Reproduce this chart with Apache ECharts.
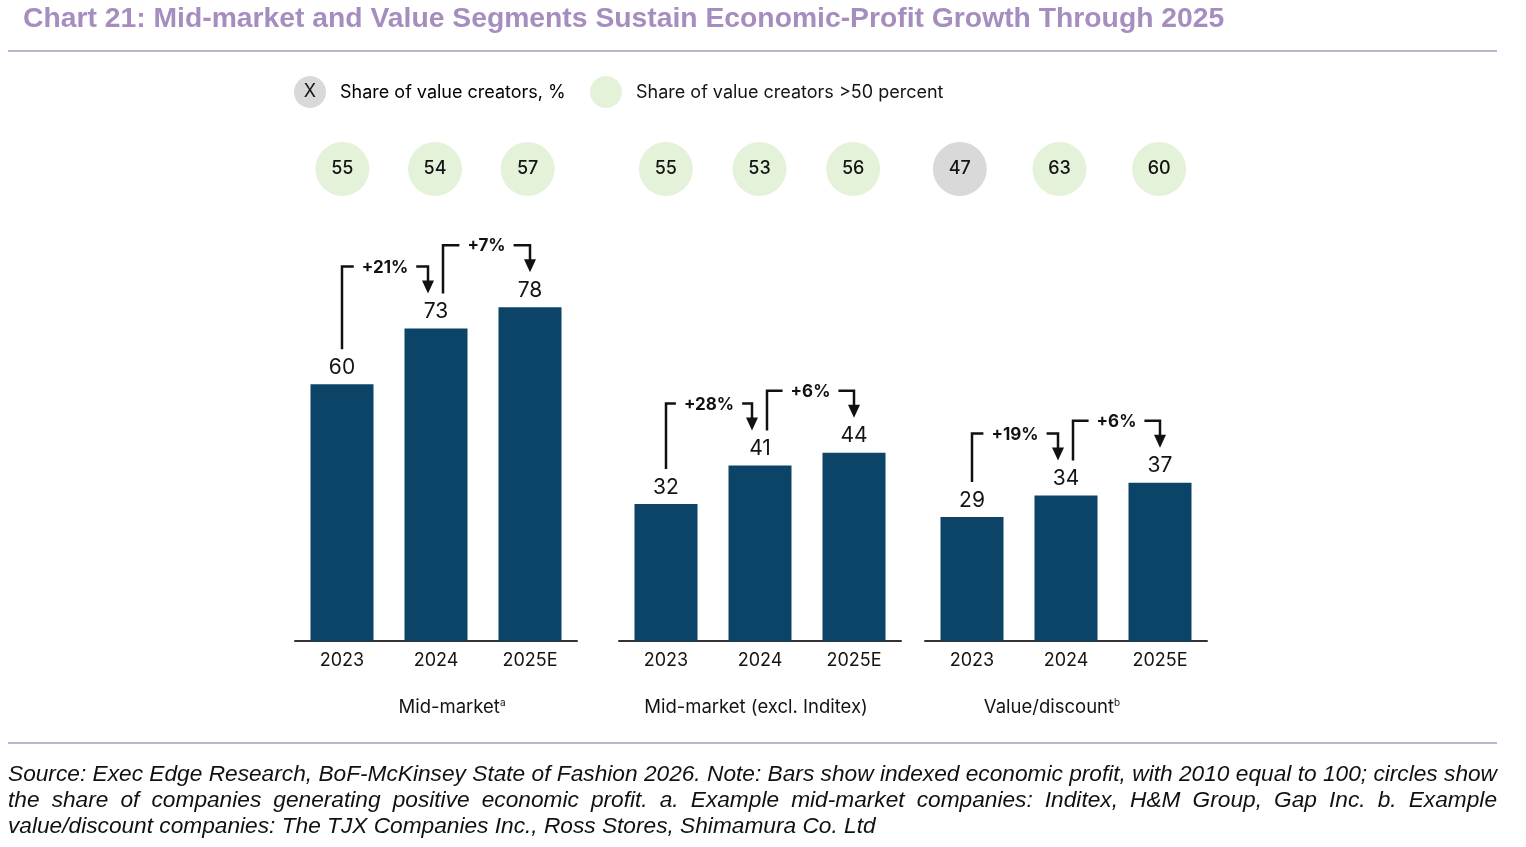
<!DOCTYPE html>
<html lang="en">
<head>
    <meta charset="UTF-8">
    <title>index</title>
    <script src="https://cdn.jsdelivr.net/npm/echarts@6/dist/echarts.min.js"></script>
    <style>
        html, body { margin: 0; padding: 0; background: #fff; }
        #chart { width: 1526px; height: 847px; }
    </style>
</head>
<body>
<div id="chart"></div>
<script>
    // data
    var years = ['2023', '2024', '2025E'];
    var midMarket = [60, 73, 78];
    var midMarketExInditex = [32, 41, 44];
    var valueDiscount = [29, 34, 37];
    var shareMidMarket = [55, 54, 57];
    var shareMidMarketExInditex = [55, 53, 56];
    var shareValueDiscount = [47, 63, 60];
    var growthMidMarket = ['+21%', '+7%'];
    var growthMidMarketExInditex = ['+28%', '+6%'];
    var growthValueDiscount = ['+19%', '+6%'];
    var groupNames = ['Mid-market', 'Mid-market (excl. Inditex)', 'Value/discount'];
    var groupNotes = ['a', '', 'b'];

    var bars = [midMarket, midMarketExInditex, valueDiscount];
    var shares = [shareMidMarket, shareMidMarketExInditex, shareValueDiscount];
    var growth = [growthMidMarket, growthMidMarketExInditex, growthValueDiscount];

    var FONT = 'Inter';
    var INK = '#141414';
    var BAR = '#0b4467';
    var RULE = '#a99bc0';
    var FOOT_FONT = 'italic 22.7px "Liberation Sans"';

    var ctx = document.createElement('canvas').getContext('2d');
    function measure(text, font) {
        ctx.font = font;
        return ctx.measureText(text).width;
    }

    // footnote, justified like the original
    function footLine(text, y, justify) {
        var words = text.split(' ');
        var widths = words.map(function (w) { return measure(w, FOOT_FONT); });
        var total = widths.reduce(function (a, b) { return a + b; }, 0);
        var gap = justify ? (1497 - 8 - total) / (words.length - 1) : measure(' ', FOOT_FONT);
        var x = 8;
        return words.map(function (w, k) {
            var el = {type: 'text', x: x, y: y, silent: true,
                style: {text: w, font: FOOT_FONT, fill: '#111', verticalAlign: 'middle'}};
            x += widths[k] + gap;
            return el;
        });
    }

    var graphics = [
        {type: 'text', x: 23, y: 19, style: {text: 'Chart 21: Mid-market and Value Segments Sustain Economic-Profit Growth Through 2025',
            font: 'bold 28.3px "Liberation Sans"', fill: '#a68dbf', verticalAlign: 'middle'}},
        {type: 'line', shape: {x1: 8, y1: 51, x2: 1497, y2: 51}, style: {stroke: RULE, lineWidth: 1.5}},
        {type: 'line', shape: {x1: 8, y1: 743, x2: 1497, y2: 743}, style: {stroke: RULE, lineWidth: 1.5}},
        // legend
        {type: 'circle', shape: {cx: 310, cy: 92, r: 16}, style: {fill: '#d9d9d9'}},
        {type: 'text', x: 310, y: 92, style: {text: 'X', font: '18px ' + FONT, fill: INK, align: 'center', verticalAlign: 'middle'}},
        {type: 'text', x: 340, y: 93, style: {text: '{a|Share of value creators, }{b|%}', verticalAlign: 'middle',
            rich: {a: {fontFamily: FONT, fontSize: 18, color: INK}, b: {fontFamily: FONT, fontSize: 18, color: '#999'}}}},
        {type: 'circle', shape: {cx: 606, cy: 92, r: 16}, style: {fill: '#e4f2da'}},
        {type: 'text', x: 636, y: 93, style: {text: 'Share of value creators >50 percent', font: '18px ' + FONT, fill: INK, verticalAlign: 'middle'}}
    ];
    graphics = graphics
        .concat(footLine('Source: Exec Edge Research, BoF-McKinsey State of Fashion 2026. Note: Bars show indexed economic profit, with 2010 equal to 100; circles show', 775, true))
        .concat(footLine('the share of companies generating positive economic profit. a. Example mid-market companies: Inditex, H&M Group, Gap Inc. b. Example', 801, true))
        .concat(footLine('value/discount companies: The TJX Companies Inc., Ross Stores, Shimamura Co. Ltd', 827, false));

    var panelLeft = [295, 619, 925];
    var circleGrid = [[296, 278], [619, 281], [910, 299]];
    var nameShift = [16, -4, -14];
    var grids = [], xAxes = [], yAxes = [], series = [];

    function bracketRenderer(p) {
        return function (params, api) {
            var vals = bars[p];
            var i = params.dataIndex;
            var n = vals.length;
            var a = api.coord([i, vals[i]]);
            var b = api.coord([i + 1, vals[i + 1]]);
            var x1 = a[0] + (i > 0 ? 7 : 0);
            var x2 = b[0] - (i + 1 < n - 1 ? 8 : 0);
            var yTop = Math.min(a[1], b[1]) - 62;
            var y1 = a[1] - 35;
            var y2 = b[1] - 35;
            var label = growth[p][i];
            var font = 'bold 17px ' + FONT;
            var tw = measure(label, font);
            var mid = (x1 + x2) / 2;
            var line = {stroke: '#111', lineWidth: 2.5, fill: null};
            return {
                type: 'group',
                children: [
                    {type: 'polyline', shape: {points: [[x1, y1], [x1, yTop], [mid - tw / 2 - 8, yTop]]}, style: line},
                    {type: 'text', style: {text: label, x: mid, y: yTop + 1, align: 'center', verticalAlign: 'middle', font: font, fill: '#111'}},
                    {type: 'polyline', shape: {points: [[mid + tw / 2 + 8, yTop], [x2, yTop], [x2, y2 - 11]]}, style: line},
                    {type: 'polygon', shape: {points: [[x2 - 6, y2 - 13], [x2 + 6, y2 - 13], [x2, y2]]}, style: {fill: '#111'}}
                ]
            };
        };
    }

    for (var p = 0; p < 3; p++) {
        var s = nameShift[p];
        grids.push({left: panelLeft[p], width: 282, top: 213, height: 428});
        xAxes.push({
            type: 'category', gridIndex: p, data: years,
            axisLine: {lineStyle: {color: '#333', width: 2}},
            axisTick: {show: false},
            axisLabel: {fontFamily: FONT, fontSize: 18, color: INK, margin: 11},
            name: groupNames[p] + (groupNotes[p] ? '{sup|' + groupNotes[p] + '}' : ''),
            nameLocation: 'middle', nameGap: 57,
            nameTextStyle: {fontFamily: FONT, fontSize: 18.5, color: INK,
                padding: [0, s < 0 ? -2 * s : 0, 0, s > 0 ? 2 * s : 0],
                rich: {sup: {fontFamily: FONT, fontSize: 10, color: INK, verticalAlign: 'top', padding: [0, 0, 8, 0]}}}
        });
        yAxes.push({type: 'value', gridIndex: p, min: 0, max: 100, show: false, splitLine: {show: false}});
        series.push({
            type: 'bar', xAxisIndex: p, yAxisIndex: p, data: bars[p], barWidth: 63,
            itemStyle: {color: BAR},
            label: {show: true, position: 'top', distance: 6, fontFamily: FONT, fontSize: 21, color: INK}
        });
        series.push({
            type: 'custom', xAxisIndex: p, yAxisIndex: p,
            renderItem: bracketRenderer(p),
            data: bars[p].slice(0, -1).map(function (v, i) { return [i, v]; }),
            z: 5
        });
    }

    for (var q = 0; q < 3; q++) {
        grids.push({left: circleGrid[q][0], width: circleGrid[q][1], top: 142, height: 54});
        xAxes.push({type: 'category', gridIndex: 3 + q, data: years, show: false});
        yAxes.push({type: 'category', gridIndex: 3 + q, data: ['share'], show: false});
        series.push({
            type: 'scatter', xAxisIndex: 3 + q, yAxisIndex: 3 + q, symbolSize: 54,
            data: shares[q].map(function (v, i) {
                return {value: [years[i], 'share', v], itemStyle: {color: v > 50 ? '#e4f2da' : '#d9d9d9', opacity: 1}};
            }),
            label: {show: true, position: 'inside', fontFamily: FONT, fontSize: 18, fontWeight: 500, color: INK,
                formatter: function (d) { return d.value[2]; }}
        });
    }

    var chart = echarts.init(document.getElementById('chart'));
    chart.setOption({
        animation: false,
        graphic: graphics,
        grid: grids,
        xAxis: xAxes,
        yAxis: yAxes,
        series: series
    });
</script>
</body>
</html>
